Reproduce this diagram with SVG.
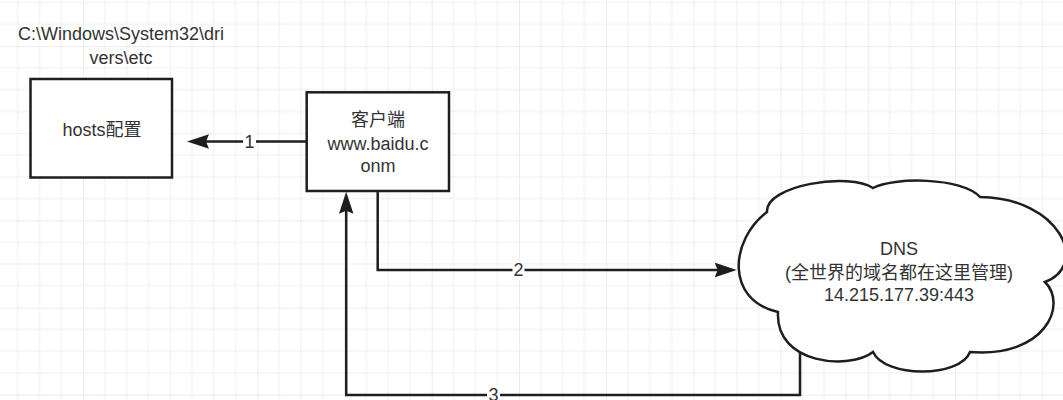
<svg xmlns="http://www.w3.org/2000/svg" width="1063" height="400" viewBox="0 0 1063 400">
  <style>
    .shape { fill: #ffffff; stroke: #1e1e1e; stroke-width: 2.5; }
    .conn { fill: none; stroke: #1e1e1e; stroke-width: 2.5; }
    .txt { font-family: "Liberation Sans", "Noto Sans CJK SC", sans-serif; font-size: 18px; fill: #333333; text-anchor: middle; }
    .lbl-bg { fill: #ffffff; stroke: none; }
  </style>
  <defs>
    <pattern id="grid" x="-4.2" y="-41.2" width="87.2" height="87.2" patternUnits="userSpaceOnUse">
      <path d="M21.8 0 V87.2 M43.6 0 V87.2 M65.4 0 V87.2 M0 21.8 H87.2 M0 43.6 H87.2 M0 65.4 H87.2" fill="none" stroke="#efefef" stroke-width="1"/>
      <path d="M0 0 V87.2 M0 0 H87.2" fill="none" stroke="#dcdcdc" stroke-width="1"/>
    </pattern>
    <marker id="arrow" markerUnits="userSpaceOnUse" markerWidth="26" markerHeight="18" refX="16" refY="8" orient="auto">
      <path d="M22,8 L0,0.75 L3,8 L0,15.25 Z" fill="#1e1e1e"/>
    </marker>
  </defs>

  <rect x="0" y="0" width="1063" height="400" fill="#ffffff"/>
  <rect x="0" y="0" width="1063" height="400" fill="url(#grid)"/>

  <g id="path-label">
    <text class="txt" x="121" y="39.5">C:\Windows\System32\dri</text>
    <text class="txt" x="121" y="63.5">vers\etc</text>
  </g>

  <g id="hosts">
    <rect class="shape" x="30.5" y="79" width="141.5" height="98.5"/>
    <text class="txt" x="102" y="136">hosts配置</text>
  </g>

  <g id="client">
    <rect class="shape" x="306.7" y="92.3" width="142.3" height="98.7"/>
    <text class="txt" x="378" y="126">客户端</text>
    <text class="txt" x="378" y="149.5">www.baidu.c</text>
    <text class="txt" x="378" y="171.5">onm</text>
  </g>

  <g id="dns">
    <path class="shape" d="M767 212 C765 185 850 172 873 188 C893 177 962 177 980 197 C1060 198 1090 265 1045 282 C1068 305 1045 358 970 352 C960 378 885 378 873 352 C850 370 775 365 778 312 C725 300 730 240 767 212 Z"/>
    <text class="txt" x="899" y="254.5">DNS</text>
    <text class="txt" x="899" y="278.5">(全世界的域名都在这里管理)</text>
    <text class="txt" x="899" y="300.5">14.215.177.39:443</text>
  </g>

  <g id="connectors">
    <path class="conn" d="M306.7 141.5 H193" marker-end="url(#arrow)"/>
    <rect class="lbl-bg" x="243" y="132" width="13" height="19"/>
    <text class="txt" x="249.5" y="147.8">1</text>

    <path class="conn" d="M377.7 191 V270 H730.7" marker-end="url(#arrow)"/>
    <rect class="lbl-bg" x="512.5" y="261" width="12" height="19"/>
    <text class="txt" x="518.5" y="276.4">2</text>

    <path class="conn" d="M800 353 V395 H346.2 V197.7" marker-end="url(#arrow)"/>
    <rect class="lbl-bg" x="487" y="386" width="13" height="14"/>
    <text class="txt" x="493.5" y="401.4">3</text>
  </g>
</svg>
